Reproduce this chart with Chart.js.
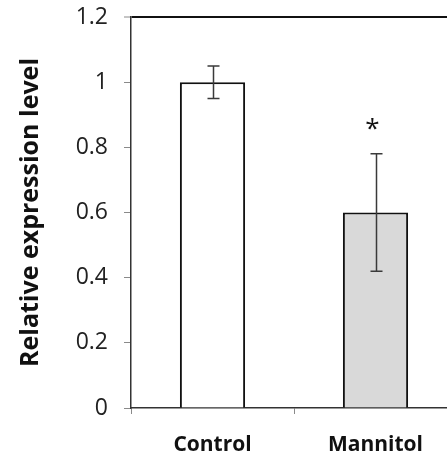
<!DOCTYPE html>
<html>
<head>
<meta charset="utf-8">
<script src="https://cdn.jsdelivr.net/npm/chart.js@4/dist/chart.umd.min.js"></script>
<style>
  html, body { margin: 0; padding: 0; background: #fff; overflow: hidden; }
  #wrap { width: 470px; height: 464px; }
</style>
</head>
<body>
<div id="wrap"><canvas id="expr" width="470" height="464"></canvas></div>
<script>
const categories = ['Control', 'Mannitol'];
const expression = [1.0, 0.6];
const errors = [0.05, 0.18];
const marks = ['', '*'];
const barColors = ['#ffffff', '#d9d9d9'];
const yTicks = [0, 0.2, 0.4, 0.6, 0.8, 1, 1.2];
const yTickLabels = ['0', '0.2', '0.4', '0.6', '0.8', '1', '1.2'];

const FONT = '"Open Sans", sans-serif';

// error bars + significance star, drawn off the bar elements
const errorBars = {
  id: 'errorBars',
  afterDatasetsDraw(chart) {
    const { ctx, scales: { y } } = chart;
    const meta = chart.getDatasetMeta(0);
    ctx.save();
    ctx.strokeStyle = '#3a3a3a';
    ctx.lineWidth = 1.5;
    meta.data.forEach((bar, i) => {
      const top = y.getPixelForValue(expression[i] + errors[i]);
      const bot = y.getPixelForValue(expression[i] - errors[i]);
      const x = Math.round(bar.x) + 0.5;
      ctx.beginPath();
      ctx.moveTo(x, top); ctx.lineTo(x, bot);
      ctx.moveTo(x - 6, top); ctx.lineTo(x + 6, top);
      ctx.moveTo(x - 6, bot); ctx.lineTo(x + 6, bot);
      ctx.stroke();
      if (marks[i]) {
        ctx.fillStyle = '#111';
        ctx.font = '26px ' + FONT;
        ctx.textAlign = 'center';
        ctx.textBaseline = 'alphabetic';
        ctx.fillText(marks[i], bar.x - 3, top - 17);
      }
    });
    ctx.restore();
  }
};

new Chart(document.getElementById('expr'), {
  type: 'bar',
  data: {
    labels: categories,
    datasets: [{
      data: expression,
      backgroundColor: barColors,
      borderColor: '#111',
      borderWidth: 2,
      borderSkipped: 'start',
      barPercentage: 0.4,
      categoryPercentage: 1
    }]
  },
  options: {
    responsive: false,
    animation: false,
    layout: { padding: { top: 17, right: 13, left: 0, bottom: 0 } },
    plugins: { legend: { display: false }, tooltip: { enabled: false } },
    scales: {
      x: {
        offset: true,
        grid: {
          offset: true,
          drawOnChartArea: false,
          tickLength: 6,
          tickColor: '#8a8a8a',
          tickWidth: 1
        },
        border: { color: '#333', width: 1.5 },
        ticks: {
          color: '#111',
          padding: 18,
          font: { family: FONT, size: 21, weight: 'bold' }
        },
        afterFit(scale) {
          scale.height = 56;
          scale.paddingLeft = 0;
          scale.paddingRight = 0;
        }
      },
      y: {
        min: 0,
        max: 1.2,
        afterBuildTicks(scale) { scale.ticks = yTicks.map(v => ({ value: v })); },
        grid: {
          // only the top line across the plot area
          color: (c) => (c.tick && c.tick.value === 1.2 ? '#111' : 'rgba(0,0,0,0)'),
          lineWidth: (c) => (c.tick && c.tick.value === 1.2 ? 2 : 1),
          tickColor: '#8a8a8a',
          tickLength: 7,
          tickWidth: 1
        },
        border: { color: '#333', width: 1.5 },
        ticks: {
          color: '#222',
          padding: 16,
          font: { family: FONT, size: 23 },
          callback: (v, i) => yTickLabels[yTicks.indexOf(v)]
        },
        title: {
          display: true,
          text: 'Relative expression level',
          color: '#111',
          padding: { top: 16, bottom: 0 },
          font: { family: FONT, size: 25, weight: 'bold' }
        },
        afterFit(scale) {
          scale.width = 131;
          scale.paddingTop = 0;
          scale.paddingBottom = 0;
        }
      }
    }
  },
  plugins: [errorBars]
});
</script>
</body>
</html>
